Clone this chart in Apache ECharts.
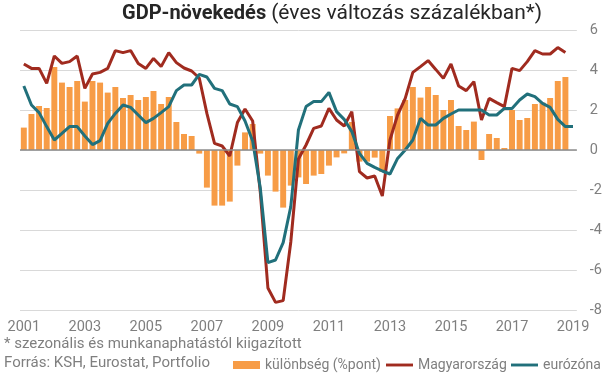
<!DOCTYPE html>
<html>
<head>
<meta charset="utf-8">
<script src="https://cdn.jsdelivr.net/npm/echarts@6/dist/echarts.min.js"></script>
<style>
html,body{margin:0;padding:0;background:#fff;}
#chart{width:605px;height:378px;}
</style>
</head>
<body>
<div id="chart"></div>
<script>
// Years shown on the category axis (quarterly categories 2001 Q1 .. 2019 Q1)
const years = [2001,2002,2003,2004,2005,2006,2007,2008,2009,2010,2011,2012,2013,2014,2015,2016,2017,2018,2019];
const quarters = ['Q1','Q2','Q3','Q4'];

// Hungary GDP growth, yoy % (2001 Q1 .. 2018 Q4)
const hungary = [
  4.3, 4.08, 4.08, 3.33, 4.7, 4.33, 4.42, 4.7, 3.08, 3.8, 3.88, 4.08,
  4.97, 4.87, 4.97, 4.33, 4.08, 4.58, 4.17, 4.87, 4.37, 4.1, 3.95, 3.6,
  1.83, 0.33, 0.2, -0.3, 1.37, 2.05, 1.45, -2.1, -6.9, -7.62, -7.53, -4.6,
  -0.45, 0.25, 1.08, 1.2, 2.08, 1.5, 1.2, 1.92, -1.08, -1.4, -1.3, -2.3,
  0.5, 1.75, 2.58, 3.88, 4.17, 4.47, 4.03, 3.58, 4.3, 3.2, 2.97, 3.42,
  1.5, 2.58, 2.37, 2.17, 4.08, 3.97, 4.42, 4.97, 4.8, 4.8, 5.12, 4.87
];

// Eurozone GDP growth, yoy % (2001 Q1 .. 2019 Q1)
const eurozone = [
  3.2, 2.25, 1.87, 1.17, 0.5, 0.83, 1.17, 1.17, 0.7, 0.27, 0.47, 1.33,
  1.83, 2.25, 2.13, 1.75, 1.37, 1.58, 1.87, 2.17, 2.97, 3.25, 3.25, 3.78,
  3.65, 3.08, 2.97, 2.3, 2.17, 1.45, 0.45, -1.9, -5.63, -5.5, -4.63, -2.83,
  1.0, 2.17, 2.42, 2.42, 2.88, 1.92, 1.53, 0.92, -0.17, -0.67, -0.87, -1.05,
  -1.2, -0.42, 0, 0.5, 1.58, 1.25, 1.25, 1.58, 1.8, 2.0, 2.0, 2.0,
  2.0, 1.75, 1.75, 2.08, 2.08, 2.5, 2.8, 2.67, 2.33, 2.13, 1.53, 1.17,
  1.17
];

// Difference, percentage points (2001 Q1 .. 2018 Q4)
const difference = [
  1.12, 1.8, 2.2, 2.1, 4.15, 3.37, 3.15, 3.45, 2.42, 3.45, 3.37, 2.87,
  3.15, 2.6, 2.75, 2.5, 2.65, 2.95, 2.3, 2.65, 1.4, 0.8, 0.7, -0.18,
  -1.88, -2.78, -2.78, -2.58, -0.78, 0.88, 1.3, -0.18, -1.28, -2.08, -2.88, -1.78,
  -1.37, -1.7, -1.28, -1.2, -0.78, -0.37, -0.17, 1.4, -0.58, -0.58, -0.38, -1.1,
  1.7, 2.08, 2.5, 3.15, 2.62, 3.15, 2.75, 2.0, 2.5, 1.2, 1.0, 1.42,
  -0.5, 0.8, 0.6, 0.1, 2.0, 1.5, 1.6, 2.3, 2.37, 2.6, 3.45, 3.65
];

const yTicks = { min: -8, max: 6, interval: 2 };

const categories = [];
years.forEach(function (y) {
  quarters.forEach(function (q) {
    if (y < 2019 || q === 'Q1') categories.push(y + ' ' + q);
  });
});

const names = ['különbség (%pont)', 'Magyarország', 'eurózóna'];
const FONT = 'Roboto';
const GRAY = '#7f7f7f';

function legendAt(left, item) {
  return {
    left: left,
    top: 358,
    padding: 0,
    itemWidth: 27,
    itemHeight: 8,
    textStyle: { color: GRAY, fontFamily: FONT, fontSize: 14 },
    data: [item]
  };
}

const chart = echarts.init(document.getElementById('chart'), null, { renderer: 'canvas' });
chart.setOption({
  animation: false,
  title: {
    text: '{b|GDP-növekedés} {n|(éves változás százalékban*)}',
    left: 122,
    top: 3,
    padding: 0,
    textStyle: {
      rich: {
        b: { fontFamily: FONT, fontWeight: 'bold', fontSize: 20, color: '#262626' },
        n: { fontFamily: FONT, fontWeight: 'normal', fontSize: 21, color: '#262626' }
      }
    }
  },
  grid: { left: 20, right: 28, top: 30, bottom: 68 },
  xAxis: {
    type: 'category',
    data: categories,
    boundaryGap: true,
    axisLine: { show: false, onZero: false },
    axisTick: { show: false },
    splitLine: { show: false },
    axisLabel: {
      interval: 7,
      margin: 10,
      color: GRAY,
      fontFamily: FONT,
      fontSize: 14.5,
      formatter: function (v) { return v.slice(0, 4); }
    }
  },
  yAxis: {
    type: 'value',
    position: 'right',
    min: yTicks.min,
    max: yTicks.max,
    interval: yTicks.interval,
    axisLine: { show: false },
    axisTick: { show: false },
    splitLine: { lineStyle: { color: '#d9d9d9', width: 1 } },
    axisLabel: { color: GRAY, fontFamily: FONT, fontSize: 14.5, margin: 13 }
  },
  legend: [
    legendAt(233, { name: names[0], icon: 'rect' }),
    legendAt(386, { name: names[1], icon: 'path://M0,0H28V3H0Z' }),
    legendAt(511, { name: names[2], icon: 'path://M0,0H28V3H0Z' })
  ],
  graphic: [
    { type: 'text', left: 4, top: 337, style: { text: '* szezonális és munkanaphatástól kiigazított', fill: GRAY, font: '15px Roboto' } },
    { type: 'text', left: 4, top: 356, style: { text: 'Forrás: KSH, Eurostat, Portfolio', fill: GRAY, font: '15px Roboto' } }
  ],
  series: [
    {
      name: names[0],
      type: 'bar',
      data: difference,
      barCategoryGap: '22%',
      itemStyle: { color: '#f79c46' },
      markLine: {
        silent: true,
        symbol: 'none',
        label: { show: false },
        lineStyle: { color: '#8c8c8c', width: 1.5, type: 'solid' },
        data: [{ yAxis: 0 }]
      }
    },
    {
      name: names[1],
      type: 'line',
      data: hungary,
      symbol: 'none',
      itemStyle: { color: '#a02b1f' },
      lineStyle: { color: '#a02b1f', width: 3 }
    },
    {
      name: names[2],
      type: 'line',
      data: eurozone,
      symbol: 'none',
      itemStyle: { color: '#21707b' },
      lineStyle: { color: '#21707b', width: 3 }
    }
  ]
});
</script>
</body>
</html>
